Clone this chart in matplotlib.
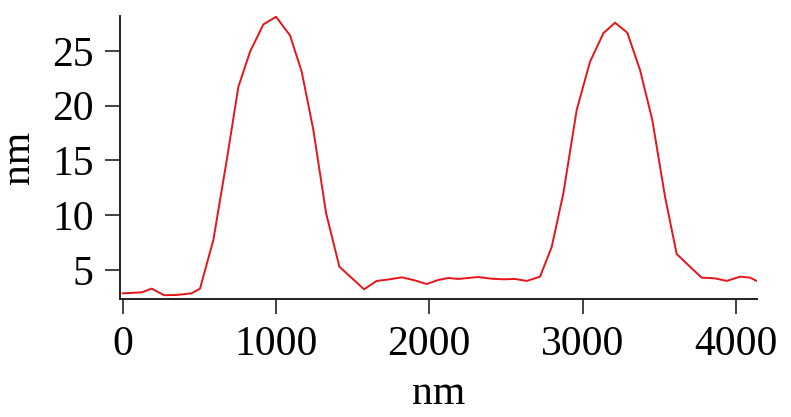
import numpy as np
from matplotlib import pyplot as plt

# height profile (x in nm, height in nm)
pos_nm = [0, 125, 190, 270, 353, 450, 505, 592, 679, 755, 831, 918, 1001,
          1092, 1168, 1244, 1327, 1414, 1575, 1657, 1744, 1820, 1896, 1984,
          2059, 2125, 2190, 2320, 2408, 2483, 2560, 2636, 2723, 2799, 2875,
          2962, 3049, 3136, 3212, 3292, 3375, 3455, 3538, 3614, 3701, 3777,
          3864, 3941, 4027, 4093, 4136]
height_nm = [2.87, 2.96, 3.3, 2.7, 2.72, 2.87, 3.3, 7.74, 15.0, 21.7, 24.9,
             27.4, 28.1, 26.4, 23.1, 17.8, 10.2, 5.3, 3.24, 4.0, 4.15, 4.33,
             4.09, 3.72, 4.09, 4.27, 4.18, 4.36, 4.2, 4.15, 4.18, 4.0, 4.39,
             7.1, 12.0, 19.6, 24.0, 26.6, 27.56, 26.65, 23.25, 18.7, 11.7,
             6.46, 5.3, 4.3, 4.24, 4.0, 4.39, 4.3, 4.0]

x_ticks = [0, 1000, 2000, 3000, 4000]
y_ticks = [5, 10, 15, 20, 25]

plt.rcParams['font.family'] = ['Liberation Serif', 'DejaVu Serif']

fig = plt.figure(figsize=(7.91, 4.17), dpi=100)
ax = fig.add_axes([0.1517, 0.2837, 0.8053, 0.6779])
ax.plot(pos_nm, height_nm, color='#e8141c', lw=1.4)

ax.set_xlim(-17, 4138)
ax.set_ylim(2.38, 28.17)
ax.set_xticks(x_ticks)
ax.set_yticks(y_ticks)

for side in ['top', 'right']:
    ax.spines[side].set_visible(False)
for side in ['left', 'bottom']:
    ax.spines[side].set_linewidth(1.4)
    ax.spines[side].set_color('#222222')

ax.tick_params(axis='both', direction='out', length=11, width=1.2,
               color='#222222', labelsize=30, pad=8)
ax.set_xlabel('nm', fontsize=30, labelpad=8)
ax.set_ylabel('nm', fontsize=30, labelpad=10)

plt.savefig('out.png', dpi=100)
plt.close()
